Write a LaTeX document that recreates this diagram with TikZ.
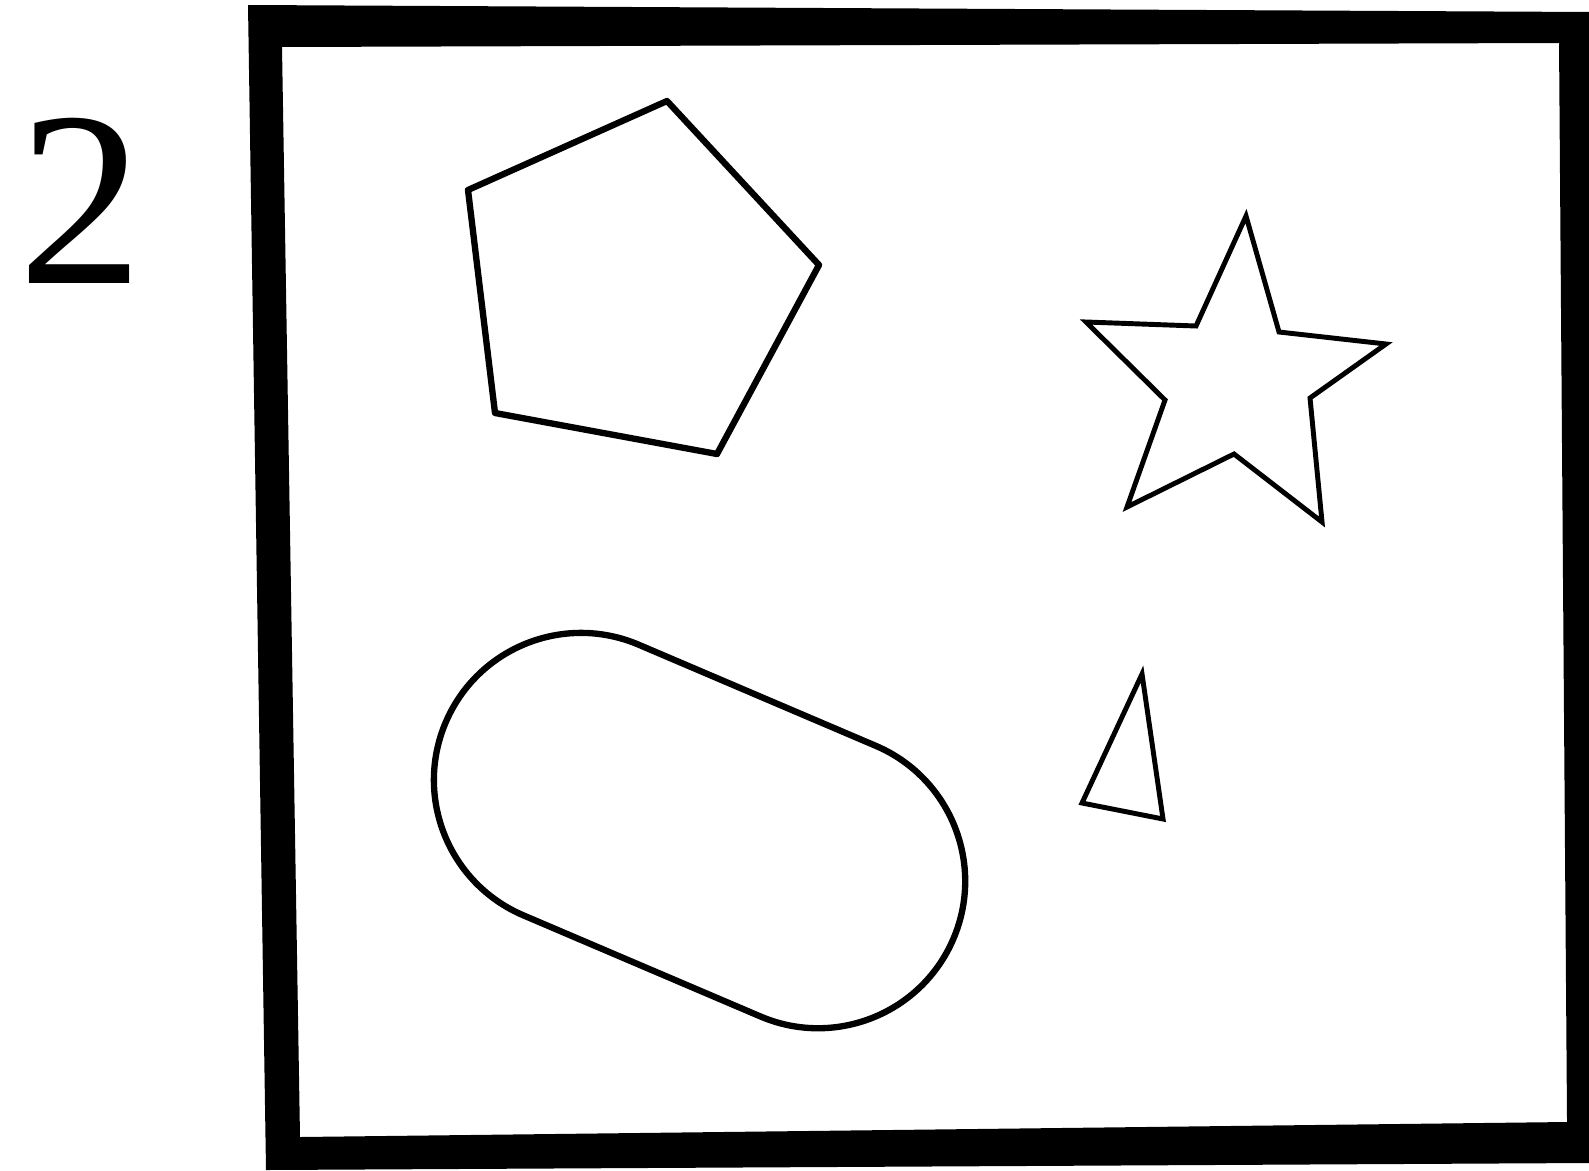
\documentclass[tikz,border=0pt]{standalone}
\usepackage{fontspec}
\setmainfont{Liberation Serif}
\usetikzlibrary{positioning}
\definecolor{scanInk}{RGB}{0,0,0}

\begin{document}
\begin{tikzpicture}[
    x=0.01cm, y=-0.01cm,
    outline/.style={draw=scanInk, line width=1.8pt, line join=round},
    thinline/.style={draw=scanInk, line width=1.4pt, line join=miter}
  ]
  \useasboundingbox (0,0) rectangle (1589,1170);
  % panel number
  \node[font=\fontsize{71}{80}\selectfont, text=scanInk, inner sep=0pt] (num) at (81,201) {2};
  % heavy frame (outer and inner edge)
  \fill[scanInk, even odd rule]
    (248,5) -- (1589,12) -- (1589,1163) -- (266,1170) -- cycle
    (282,47) -- (1559,43) -- (1567,1122) -- (300,1137) -- cycle;
  % pentagon
  \draw[outline] (667,101) -- (819,265) -- (717,454) -- (495,413) -- (468,190) -- cycle;
  % star
  \draw[thinline] (1246,216) -- (1279,332) -- (1386,344) -- (1310,398) -- (1322,522)
    -- (1234,454) -- (1127,507) -- (1165,400) -- (1086,322) -- (1196,326) -- cycle;
  % tilted stadium
  \begin{scope}[shift={(581,780)}, x=1cm, y=1cm, rotate=-23.1]
    \draw[outline] (0,1.47) -- (2.576,1.47)
      arc[start angle=90, end angle=-90, radius=1.47cm] -- (0,-1.47)
      arc[start angle=-90, end angle=-270, radius=1.47cm] -- cycle;
  \end{scope}
  % small triangle
  \draw[thinline] (1142,674) -- (1163,819) -- (1082,803) -- cycle;
\end{tikzpicture}
\end{document}
